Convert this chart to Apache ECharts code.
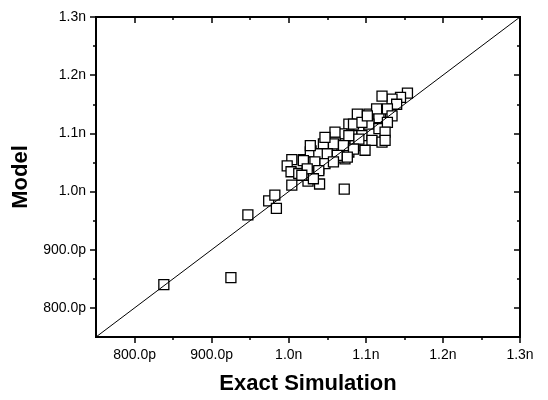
<!DOCTYPE html>
<html>
<head>
<meta charset="utf-8">
<script src="https://cdn.jsdelivr.net/npm/echarts@6/dist/echarts.min.js"></script>
<style>
html,body{margin:0;padding:0;background:#fff;}
#chart{width:548px;height:400px;}
</style>
</head>
<body>
<div id="chart"></div>
<script>
// Data (values in nanoseconds)
var exactSim = [
  0.838, 0.925, 0.947, 0.974, 0.982, 0.984, 1.004, 1.072, 1.040, 1.025,
  1.046, 1.060, 1.029, 1.019, 1.004, 0.998, 1.003, 1.013, 1.024, 1.027,
  1.037, 1.039, 1.052,
  1.089, 1.104, 1.117, 1.132, 1.078, 1.091, 1.104, 1.117, 1.069, 1.082,
  1.095, 1.108, 1.121, 1.073, 1.086, 1.069, 1.078, 1.060, 1.073, 1.065,
  1.154, 1.145, 1.134, 1.140, 1.128, 1.134, 1.128, 1.125, 1.125,
  1.084, 1.095, 1.060, 1.078, 1.091, 1.045, 1.058, 1.071, 1.084, 1.099,
  1.028, 1.039, 1.050, 1.063, 1.076, 1.019, 1.034, 1.047, 1.058, 1.024,
  1.039, 1.017, 1.032,
  1.121, 1.114, 1.047, 1.028, 1.102
];
var modelVals = [
  0.840, 0.852, 0.960, 0.984, 0.994, 0.971, 1.011, 1.004, 1.013, 1.018,
  1.080, 1.084, 1.070, 1.055, 1.055, 1.044, 1.034, 1.031, 1.036, 1.028,
  1.053, 1.039, 1.062,
  1.133, 1.133, 1.127, 1.136, 1.116, 1.113, 1.116, 1.108, 1.099, 1.096,
  1.096, 1.088, 1.085, 1.082, 1.079, 1.071, 1.068, 1.085, 1.056, 1.059,
  1.169, 1.162, 1.159, 1.150, 1.142, 1.130, 1.119, 1.102, 1.088,
  1.116, 1.119, 1.102, 1.096, 1.090, 1.082, 1.082, 1.079, 1.073, 1.071,
  1.068, 1.065, 1.065, 1.062, 1.059, 1.053, 1.051, 1.048, 1.051, 1.039,
  1.036, 1.028, 1.022,
  1.164, 1.142, 1.093, 1.079, 1.130
];
var refLine = [[0.75, 0.75], [1.3, 1.3]];
var majorTicks = [0.8, 0.9, 1.0, 1.1, 1.2, 1.3];
var minorTicks = [0.85, 0.95, 1.05, 1.15, 1.25];
var tickLabels = ['800.0p', '900.0p', '1.0n', '1.1n', '1.2n', '1.3n'];
var axisMin = 0.75, axisMax = 1.3;

function fmt(v) {
  for (var i = 0; i < majorTicks.length; i++) {
    if (Math.abs(majorTicks[i] - v) < 1e-6) return tickLabels[i];
  }
  return '';
}
var points = exactSim.map(function (x, i) { return [x, modelVals[i]]; });

var font = 'Liberation Sans, Arial, sans-serif';
var axLine = {show: true, onZero: false, lineStyle: {color: '#000', width: 2}};

function mkAxis(pos, ticks, inside, len, labels, extra) {
  var a = {
    type: 'value', position: pos, min: axisMin, max: axisMax,
    axisLine: axLine,
    splitLine: {show: false},
    axisTick: {show: true, inside: inside, length: len, customValues: ticks,
      lineStyle: {color: '#000', width: 1.5}},
    axisLabel: labels ? {show: true, customValues: ticks, formatter: fmt,
      color: '#000', fontSize: 14, fontFamily: font, margin: pos === 'left' ? 10 : 11}
      : {show: false}
  };
  for (var k in extra) a[k] = extra[k];
  return a;
}

var nameStyle = {fontSize: 22, fontWeight: 'bold', fontFamily: font, color: '#000'};

var option = {
  animation: false,
  backgroundColor: '#fff',
  grid: {left: 96, right: 28, top: 17, bottom: 60, containLabel: false},
  xAxis: [
    mkAxis('bottom', majorTicks, false, 6, true,
      {name: 'Exact Simulation', nameLocation: 'middle', nameGap: 36, nameTextStyle: nameStyle}),
    mkAxis('bottom', minorTicks, false, 3, false, {}),
    mkAxis('top', majorTicks, true, 6, false, {}),
    mkAxis('top', minorTicks, true, 3, false, {})
  ],
  yAxis: [
    mkAxis('left', majorTicks, false, 6, true,
      {name: 'Model', nameLocation: 'middle', nameGap: 60, nameTextStyle: nameStyle}),
    mkAxis('left', minorTicks, false, 3, false, {}),
    mkAxis('right', majorTicks, true, 6, false, {}),
    mkAxis('right', minorTicks, true, 3, false, {})
  ],
  series: [
    {
      type: 'scatter', xAxisIndex: 0, yAxisIndex: 0, data: points,
      symbol: 'rect', symbolSize: 10,
      itemStyle: {color: '#fff', borderColor: '#000', borderWidth: 1.3, opacity: 1},
      z: 2
    },
    {
      type: 'line', xAxisIndex: 0, yAxisIndex: 0, data: refLine,
      showSymbol: false, symbol: 'none',
      lineStyle: {color: '#000', width: 1}, z: 3
    }
  ]
};
var chart = echarts.init(document.getElementById('chart'), null, {renderer: 'canvas'});
chart.setOption(option);
</script>
</body>
</html>
